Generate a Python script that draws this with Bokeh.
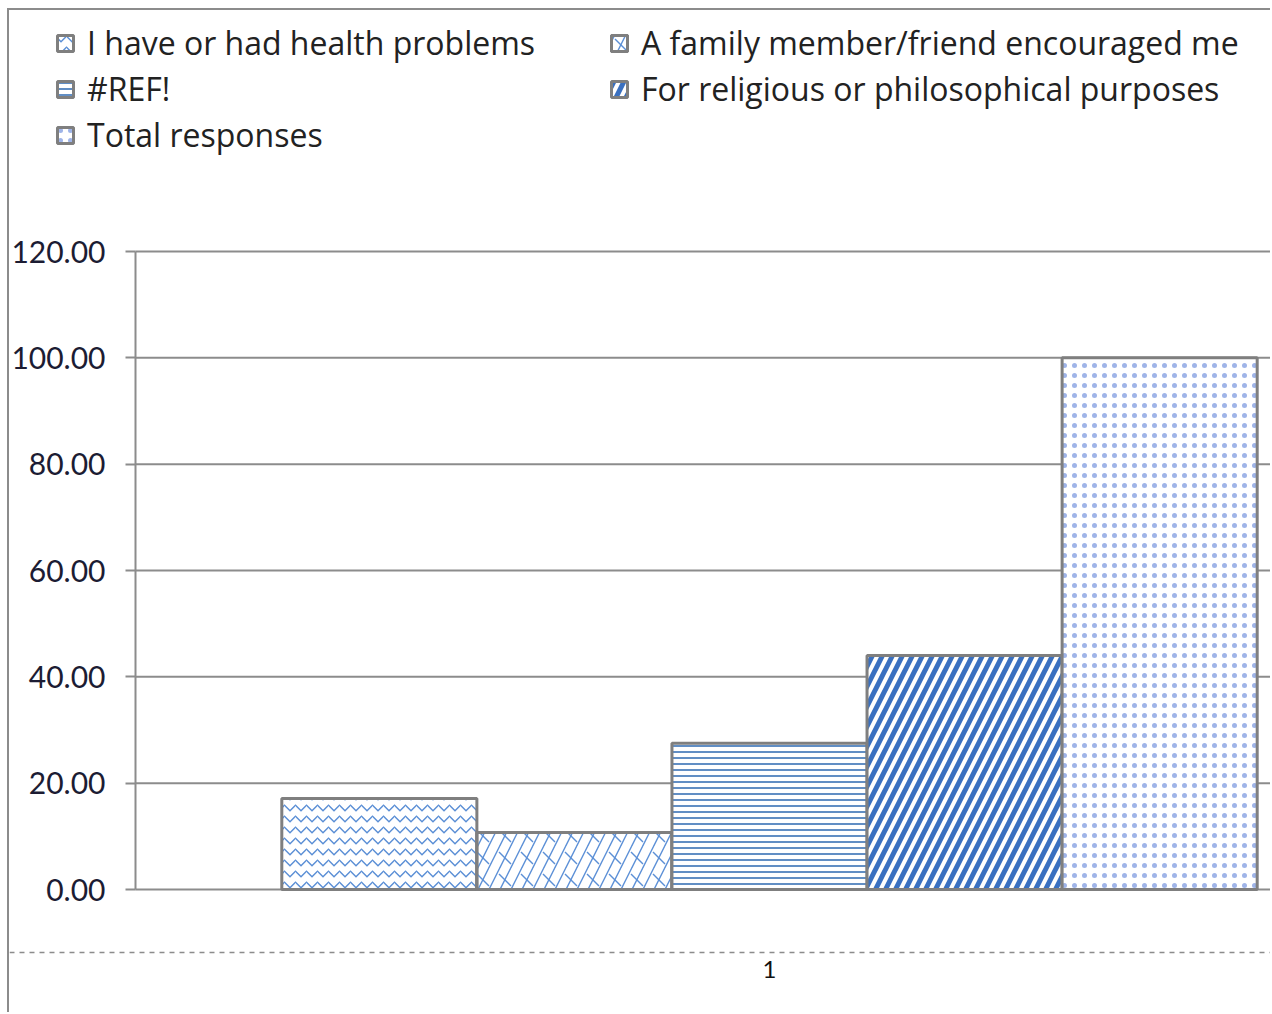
from bokeh.plotting import figure
from bokeh.models import (Range1d, FixedTicker, NumeralTickFormatter, Legend, LegendItem,
                          ColumnDataSource)
from bokeh.embed import file_html
from bokeh.resources import INLINE

# ---- data ----
categories = ["1"]
series = ["I have or had health problems",
          "A family member/friend encouraged me",
          "#REF!",
          "For religious or philosophical purposes",
          "Total responses"]
values = [17.1, 10.7, 27.5, 44.0, 100.0]
y_ticks = [0, 20, 40, 60, 80, 100, 120]

# ---- styles per series ----
patterns = ["horizontal_wave", "right_diagonal_line", "horizontal_line", "right_diagonal_line", "dot"]
scales = [11, 22, 6, 20, 10]
weights = [1.5, 1.4, 1.8, 5.0, 0.8]
hcolors = ["#5b8fd6", "#5b8fd6", "#4f81bd", "#3a70c0", "#9fb4e8"]

TICK_FONT = "Lato"
LEG_FONT = "Open Sans"
W, H = 1263, 1004
PX_PER_UNIT = 638 / 120.0      # vertical scale
CAT_PX = 1268.0                # width of one category slot
# frame covers the whole figure; ranges chosen so that the axis sits 126px in
x_start = -126 / CAT_PX
x_end = (W - 126) / CAT_PX
y_end = 879 / PX_PER_UNIT
y_start = -(H - 879) / PX_PER_UNIT
x_axis_y = -63 / PX_PER_UNIT

p = figure(width=W, height=H, output_backend="svg", toolbar_location=None,
           x_range=Range1d(x_start, x_end), y_range=Range1d(y_start, y_end),
           min_border=0)
p.styles = {"margin-left": "7px", "margin-top": "8px",
            "border-left": "2px solid #8c8c8c", "border-top": "2px solid #8c8c8c"}
p.outline_line_color = None
p.background_fill_color = "white"
p.grid.visible = False

# grid lines (behind bars)
p.segment(x0=[0] * len(y_ticks), x1=[x_end] * len(y_ticks), y0=y_ticks, y1=y_ticks,
          line_color="#8c8c8c", line_width=2)

n = len(series)
bw = 1.0 / (n * 1.3)
renderers = []
for i, (name, v) in enumerate(zip(series, values)):
    x = 0.5 + (i - (n - 1) / 2) * bw
    src = ColumnDataSource(dict(x=[x], top=[v]))
    r = p.vbar(x="x", top="top", bottom=0, width=bw, source=src,
               fill_color="white", line_color="#7f7f7f", line_width=3,
               hatch_pattern=patterns[i], hatch_scale=scales[i],
               hatch_weight=weights[i], hatch_color=hcolors[i])
    rs = [r]
    if i == 1:
        r2 = p.vbar(x="x", top="top", bottom=0, width=bw, source=src,
                    fill_alpha=0, line_color="#7f7f7f", line_width=3,
                    hatch_pattern="left_diagonal_dash",
                    hatch_scale=22, hatch_weight=1.4, hatch_color=hcolors[i])
        rs.append(r2)
    renderers.append(rs)

# y axis
ya = p.yaxis[0]
ya.fixed_location = 0
ya.ticker = FixedTicker(ticks=y_ticks)
ya.formatter = NumeralTickFormatter(format="0.00")
ya.bounds = (0, 120)
ya.axis_line_color = "#8c8c8c"
ya.axis_line_width = 2
ya.major_tick_line_color = "#8c8c8c"
ya.major_tick_line_width = 2
ya.major_tick_out = 10
ya.major_tick_in = 0
ya.minor_tick_line_color = None
ya.major_label_standoff = 20
ya.major_label_text_font = TICK_FONT
ya.major_label_text_font_size = "30px"
ya.major_label_text_color = "#1c1c33"

# x axis (dashed line with category label)
xa = p.xaxis[0]
xa.fixed_location = x_axis_y
xa.ticker = FixedTicker(ticks=[0.5])
xa.major_label_overrides = {0.5: categories[0]}
xa.axis_line_color = "#8c8c8c"
xa.axis_line_width = 1.5
xa.axis_line_dash = "5 5"
xa.major_tick_line_color = None
xa.minor_tick_line_color = None
xa.major_label_standoff = 2
xa.major_label_text_font = TICK_FONT
xa.major_label_text_font_size = "24px"
xa.major_label_text_color = "#111111"

order = [0, 2, 4, 1, 3]
items = [LegendItem(label=series[k], renderers=renderers[k]) for k in order]
leg = Legend(items=items, location=(46, 858), orientation="vertical", nrows=3,
             label_text_font=LEG_FONT, label_text_font_size="32px", label_text_color="#222222",
             glyph_width=20, glyph_height=20, label_standoff=12, spacing=3,
             label_height=36, label_width=519, padding=0, margin=0,
             border_line_alpha=0, background_fill_alpha=0)
p.add_layout(leg, "center")

open("out.html", "w").write(file_html(p, INLINE))
